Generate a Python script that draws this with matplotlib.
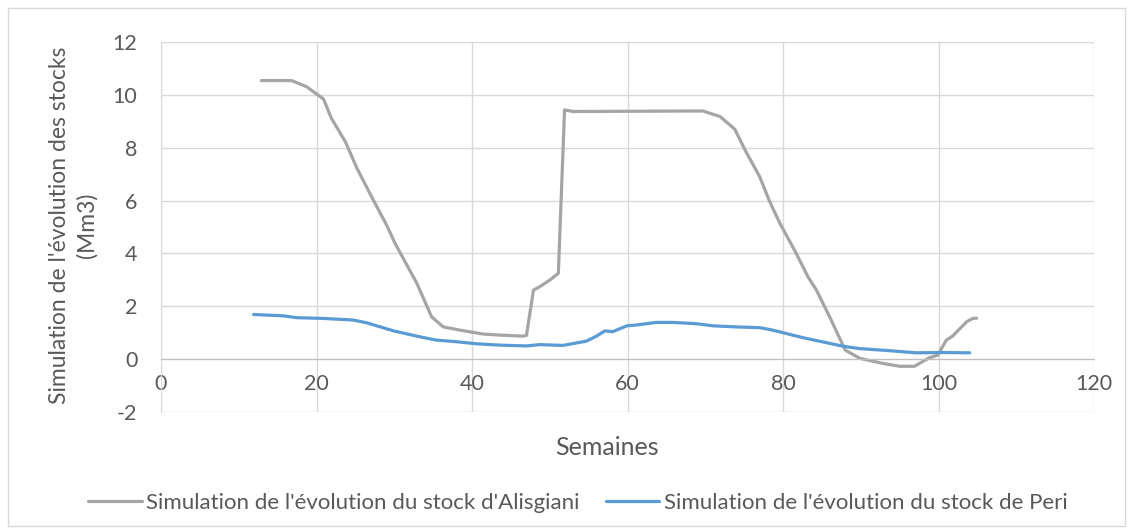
import matplotlib.pyplot as plt
from matplotlib.patches import Rectangle

# Stock d'Alisgiani (gris)
semaines_alis = [12.9, 16.8, 18.7, 20.9, 21.9, 23.7, 25.2, 27.3, 29.0, 30.1, 32.9, 34.8,
                 36.3, 38.4, 41.4, 43.6, 46.6, 47.0, 47.9, 48.7, 50.0, 51.1, 51.9, 53.0,
                 69.7, 71.9, 73.8, 75.1, 77.0, 78.3, 79.6, 81.7, 83.2, 84.3, 86.0, 88.0,
                 89.9, 92.8, 95.0, 96.9, 98.8, 99.9, 101.0, 101.8, 103.6, 104.4, 104.9]
stock_alis = [10.54, 10.54, 10.31, 9.84, 9.12, 8.23, 7.22, 6.02, 5.08, 4.38, 2.87, 1.6,
              1.22, 1.1, 0.95, 0.91, 0.87, 0.9, 2.61, 2.74, 2.99, 3.25, 9.43, 9.37,
              9.39, 9.18, 8.7, 7.92, 6.9, 5.95, 5.14, 4.0, 3.12, 2.61, 1.6, 0.34,
              0.03, -0.16, -0.27, -0.27, 0.05, 0.15, 0.72, 0.87, 1.41, 1.54, 1.55]

# Stock de Peri (bleu)
semaines_peri = [11.9, 15.7, 17.4, 20.9, 24.7, 26.4, 29.9, 32.9, 35.4, 38.0, 40.6, 43.6,
                 47.0, 48.7, 51.7, 54.7, 56.0, 57.1, 58.1, 59.9, 61.1, 63.7, 65.8, 68.9,
                 71.0, 74.0, 77.0, 78.3, 79.6, 82.6, 87.7, 89.8, 93.7, 97.1, 100.6, 104.0]
stock_peri = [1.69, 1.64, 1.57, 1.54, 1.48, 1.38, 1.07, 0.87, 0.72, 0.66, 0.58, 0.53,
              0.5, 0.55, 0.52, 0.68, 0.87, 1.07, 1.04, 1.26, 1.29, 1.39, 1.39, 1.34,
              1.26, 1.22, 1.19, 1.12, 1.03, 0.81, 0.49, 0.4, 0.32, 0.24, 0.25, 0.24]

x_ticks = [0, 20, 40, 60, 80, 100, 120]
y_ticks = [-2, 0, 2, 4, 6, 8, 10, 12]

plt.rcParams['font.family'] = ['Lato', 'DejaVu Sans']
plt.rcParams['axes.unicode_minus'] = False
txt = '#595959'

fig = plt.figure(figsize=(11.31, 5.31), dpi=100)
ax = fig.add_axes([0.1424, 0.2241, 0.8249, 0.6968])

ax.plot(semaines_alis, stock_alis, color='#A5A5A5', linewidth=2.3,
        label="Simulation de l'évolution du stock d'Alisgiani", solid_capstyle='round')
ax.plot(semaines_peri, stock_peri, color='#5B9BD5', linewidth=2.3,
        label="Simulation de l'évolution du stock de Peri", solid_capstyle='round')

ax.set_xlim(0, 120)
ax.set_ylim(-2, 12)
ax.set_xticks(x_ticks)
ax.set_yticks(y_ticks)
ax.grid(True, color='#D9D9D9', linewidth=1)
ax.set_axisbelow(True)
for s in ['top', 'right']:
    ax.spines[s].set_visible(False)
ax.spines['bottom'].set_position(('data', 0))
ax.spines['bottom'].set_color('#BFBFBF')
ax.spines['left'].set_color('#D9D9D9')
ax.tick_params(length=0, labelsize=15.5, colors=txt)
ax.tick_params(axis='x', pad=11)
ax.tick_params(axis='y', pad=17)

ax.set_xlabel('Semaines', fontsize=18, color=txt)
ax.xaxis.set_label_coords(0.478, -0.065)
ax.set_ylabel("Simulation de l'évolution des stocks\n(Mm3)", fontsize=16.5, color=txt,
              linespacing=1.35)
ax.yaxis.set_label_coords(-0.068, 0.505)

ax.legend(loc='center', bbox_to_anchor=(0.511, 0.053), bbox_transform=fig.transFigure,
          ncol=2, frameon=False, fontsize=16, labelcolor=txt, handlelength=2.4,
          handletextpad=0.2, columnspacing=1.2)

fig.patches.append(Rectangle((0.007, 0.01), 0.988, 0.975, transform=fig.transFigure,
                             fill=False, edgecolor='#D9D9D9', linewidth=1))

fig.savefig('out.png', dpi=100)
